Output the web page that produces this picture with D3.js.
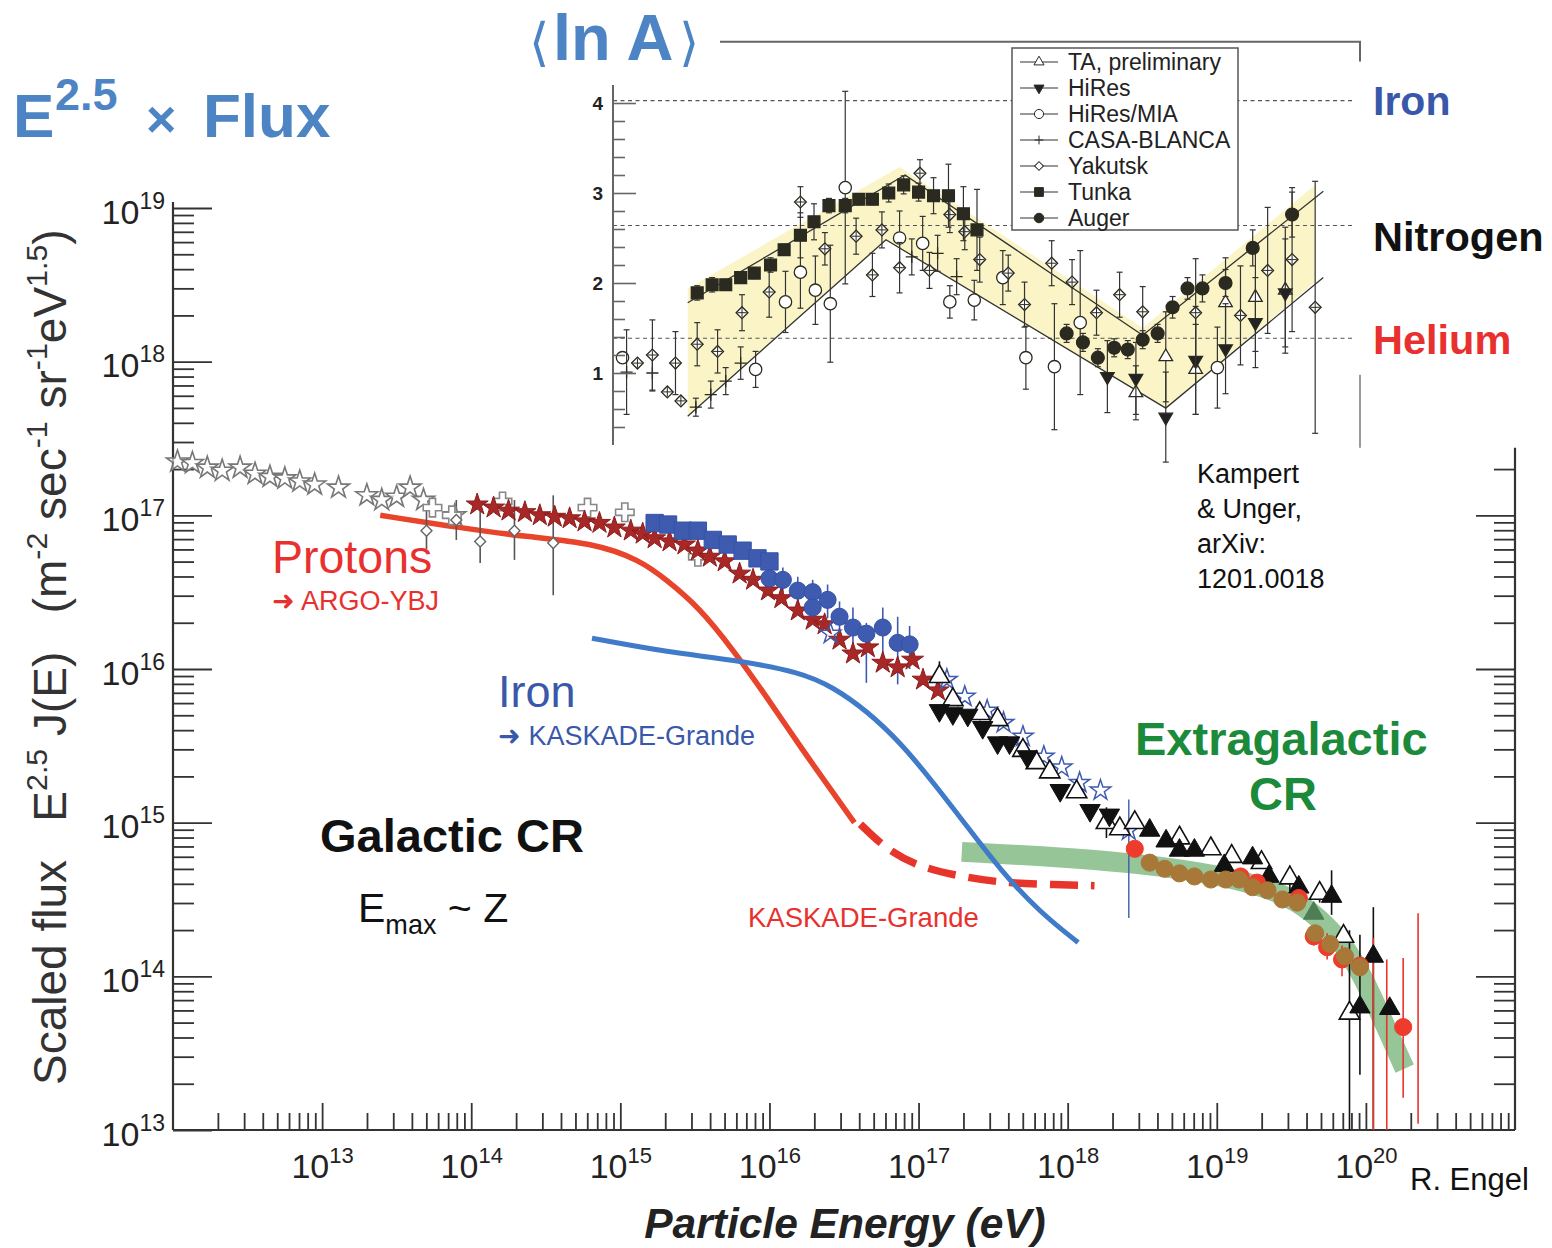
<!DOCTYPE html>
<html>
<head>
<meta charset="utf-8">
<script src="https://cdn.jsdelivr.net/npm/d3@7"></script>
<style>
  body { margin: 0; background: #fff; }
  svg { display: block; font-family: "Liberation Sans", Arial, Helvetica, sans-serif; }
  text { white-space: pre; }
</style>
</head>
<body>
<svg id="chart" width="1552" height="1248"></svg>
<script>
// ---------- main chart data: [log10 E (eV), log10 E^2.5 J(E)] ----------
const xDecades = [13, 14, 15, 16, 17, 18, 19, 20];
const yDecades = [13, 14, 15, 16, 17, 18, 19];

const directStars = [[12.03,17.35],[12.13,17.34],[12.23,17.31],[12.33,17.29],[12.45,17.31],[12.55,17.27],[12.65,17.25],[12.75,17.24],[12.85,17.22],[12.95,17.20],[13.11,17.18],[13.30,17.13],[13.40,17.10],[13.50,17.12],[13.59,17.18],[13.68,17.10],[13.89,17.00]];
const openCrosses = [[13.74,17.05],[13.87,17.00],[14.21,17.09],[14.78,17.05],[15.03,17.02],[15.52,16.73]];
// [lgE, lgF, lo, hi]
const argoPoints = [[13.70,16.90,16.78,17.03],[13.90,16.97,16.84,17.10],[14.06,16.83,16.69,17.09],[14.29,16.90,16.71,17.10],[14.55,16.82,16.48,17.13]];
const redStars = [[14.04,17.07],[14.15,17.05],[14.25,17.03],[14.36,17.02],[14.46,17.00],[14.56,16.99],[14.66,16.98],[14.76,16.96],[14.86,16.95],[14.96,16.92],[15.07,16.90],[15.15,16.88],[15.23,16.85],[15.33,16.83],[15.43,16.81],[15.52,16.77],[15.60,16.73],[15.70,16.70],[15.80,16.62],[15.89,16.58],[15.99,16.51],[16.08,16.46],[16.19,16.38],[16.29,16.32],[16.37,16.29],[16.47,16.19],[16.56,16.10],[16.66,16.14],[16.76,16.04],[16.86,16.01],[16.96,16.06],[17.03,15.93],[17.13,15.86]];
const blueSquares = [[15.23,16.95],[15.32,16.94],[15.42,16.90],[15.52,16.90],[15.62,16.84],[15.72,16.81],[15.82,16.77],[15.92,16.72],[16.00,16.70]];
const blueCircles = [[16.00,16.59,16.52,16.66],[16.09,16.58,16.50,16.66],[16.19,16.51,16.40,16.60],[16.29,16.50,16.40,16.58],[16.39,16.45,16.33,16.55],[16.29,16.40,16.30,16.48],[16.47,16.34,16.22,16.44],[16.56,16.27,16.10,16.40],[16.65,16.23,15.91,16.30],[16.76,16.27,16.01,16.40],[16.86,16.17,15.90,16.34],[16.94,16.16,16.00,16.28]];
const blueOpenStars = [[16.41,16.23,16.23,16.23],[17.19,15.93,15.93,15.93],[17.31,15.82,15.82,15.82],[17.46,15.73,15.73,15.73],[17.57,15.65,15.65,15.65],[17.70,15.56,15.56,15.56],[17.84,15.43,15.43,15.43],[17.96,15.36,15.36,15.36],[18.08,15.26,15.26,15.26],[18.22,15.21,15.21,15.21],[18.41,14.95,14.38,15.15]];
const blackDownTri = [[17.14,15.73],[17.23,15.71],[17.33,15.70],[17.43,15.62],[17.53,15.52],[17.61,15.52],[17.73,15.43],[17.95,15.21],[18.15,15.08],[18.28,15.05]];
const blackOpenTri = [[17.14,15.95,15.85,16.05],[17.23,15.80,15.80,15.80],[17.41,15.71,15.71,15.71],[17.53,15.67,15.67,15.67],[17.70,15.47,15.47,15.47],[17.79,15.39,15.39,15.39],[17.88,15.33,15.33,15.33],[18.06,15.20,15.20,15.20],[18.26,15.00,14.90,15.10],[18.35,14.96,14.96,14.96],[18.45,15.00,15.00,15.00],[18.75,14.90,14.90,14.90],[18.96,14.83,14.83,14.83],[19.10,14.78,14.78,14.78],[19.30,14.74,14.74,14.74],[19.49,14.64,14.55,14.72],[19.69,14.54,14.48,14.60],[19.85,14.26,14.26,14.26],[19.89,13.76,13.00,14.30]];
const blackTri = [[18.55,14.95,14.95,14.95],[18.66,14.88,14.88,14.88],[18.75,14.82,14.82,14.82],[18.85,14.82,14.82,14.82],[19.05,14.72,14.72,14.72],[19.24,14.77,14.77,14.77],[19.35,14.65,14.60,14.72],[19.55,14.58,14.58,14.58],[19.77,14.52,14.40,14.69],[19.96,13.80,13.36,14.27],[20.05,14.13,13.00,14.45],[20.16,13.79,13.79,13.79]];
const greenTri = [[19.65,14.41]];
const redCircles = [[18.45,14.83,14.83,14.83],[19.16,14.65,14.65,14.65],[19.27,14.61,14.61,14.61],[19.55,14.51,14.51,14.51],[19.65,14.26,14.20,14.32],[19.74,14.19,14.11,14.28],[19.84,14.11,14.00,14.20],[19.96,14.07,14.07,14.07],[20.25,13.67,13.21,14.12]];
const redBars = [[20.05,13.00,14.25],[20.14,13.00,14.11],[20.35,13.04,14.41]];
const augerFlux = [[18.55,14.74],[18.65,14.70],[18.75,14.67],[18.85,14.65],[18.96,14.63],[19.06,14.63],[19.15,14.63],[19.24,14.58],[19.34,14.56],[19.44,14.50],[19.54,14.48],[19.66,14.28],[19.76,14.21],[19.86,14.13],[19.96,14.06]];

const protonCurve = [[13.39,17.00],[13.92,16.92],[14.37,16.86],[14.82,16.82],[15.13,16.71],[15.31,16.58],[15.53,16.40],[15.76,16.12],[15.98,15.82],[16.21,15.49],[16.43,15.19],[16.57,15.00]];
const protonDashed = [[16.61,14.99],[16.79,14.82],[17.01,14.71],[17.28,14.65],[17.55,14.61],[17.81,14.60],[18.18,14.59]];
const ironCurve = [[14.81,16.20],[15.31,16.11],[15.76,16.06],[16.21,15.98],[16.43,15.88],[16.65,15.73],[16.88,15.52],[17.10,15.26],[17.33,14.97],[17.55,14.69],[17.81,14.42],[18.07,14.22]];
const extragalBand = [[17.29,14.81],[17.88,14.78],[18.42,14.74],[18.89,14.68],[19.22,14.61],[19.49,14.52],[19.69,14.38],[19.86,14.20],[19.99,13.98],[20.13,13.68],[20.26,13.40]];

// ---------- inset data: [log10 E, <ln A>, error] ----------
const insetTicks = [1, 2, 3, 4];
const massNumbers = [56, 14, 4];   // iron, nitrogen, helium
const taPrelim = [[18.35,0.78,.3],[18.57,1.18,.5],[18.79,1.04,.5],[19.01,1.78,.5],[19.23,1.84,.6],[19.45,1.92,.7]];
const hires = [[18.14,0.96,.4],[18.35,0.94,.4],[18.57,0.51,.5],[18.79,1.14,.6],[19.01,1.27,.5],[19.23,1.56,.5],[19.45,1.89,.6]];
const hiresMia = [[14.57,1.17,0],[15.55,1.04,.2],[15.77,1.79,.34],[15.88,2.12,.4],[15.99,1.92,.38],[16.10,1.77,.65],[16.21,3.06,1.07],[16.61,2.50,.3],[16.78,2.44,.3],[16.98,1.79,.18],[17.16,1.81,.22],[17.37,2.06,.3],[17.54,1.17,.35],[17.75,1.07,.7],[17.94,1.56,.8],[18.95,1.06,.45]];
const casaBlanca = [[14.60,1.01,.47],[14.79,1.00,.2],[15.11,0.62,.1],[15.22,0.76,.15],[15.33,0.91,.15],[15.44,1.11,.18],[16.70,2.29,.2],[16.89,2.33,.2],[17.03,2.07,.2]];
const yakutsk = [[14.68,1.11,0],[14.79,1.20,.39],[14.90,0.79,0],[14.96,1.11,.35],[15.00,0.69,0],[15.12,1.32,.24],[15.27,1.24,.24],[15.45,1.67,.2],[15.65,1.90,.28],[15.88,2.90,.17],[16.06,2.38,.18],[16.29,2.52,.2],[16.41,2.09,.24],[16.48,2.59,.2],[16.61,2.17,.28],[16.76,3.22,.15],[16.83,2.14,.2],[16.98,2.76,.2],[17.09,2.57,.2],[17.20,2.26,.25],[17.41,2.11,.2],[17.53,1.76,.25],[17.73,2.22,.25],[17.88,2.01,.25],[18.06,1.67,.25],[18.23,1.87,.25],[18.40,1.68,.28],[18.79,1.67,.6],[19.12,1.64,.55],[19.32,2.14,.7],[19.50,2.26,.8],[19.67,1.73,1.4]];
const tunka = [[15.12,1.89,.08],[15.23,1.98,.08],[15.33,1.98,.06],[15.44,2.06,.06],[15.54,2.11,.06],[15.66,2.20,.08],[15.76,2.37,.06],[15.88,2.53,.25],[15.98,2.68,.2],[16.09,2.86,.08],[16.21,2.86,.08],[16.31,2.93,.06],[16.41,2.93,.06],[16.53,3.00,.1],[16.64,3.09,.1],[16.75,3.01,.1],[16.86,2.97,.2],[16.97,2.97,.35],[17.08,2.77,.3],[17.18,2.59,.45]];
const auger = [[17.84,1.44,.1],[17.96,1.34,.1],[18.07,1.17,.1],[18.19,1.28,.1],[18.29,1.26,.1],[18.40,1.37,.1],[18.51,1.44,.1],[18.62,1.73,.12],[18.73,1.94,.12],[18.84,1.94,.15],[19.01,2.00,.15],[19.21,2.39,.2],[19.50,2.76,.25]];
const bandEdge = [[15.05,1.94],[16.61,3.29],[18.40,1.50],[19.67,3.09],[19.67,2.01],[18.57,0.61],[16.51,2.47],[15.05,0.53]];
const bandUpperLine = [[15.05,1.78],[16.65,3.20],[18.40,1.42],[19.73,3.02]];
const bandLowerLine = [[15.05,0.52],[16.51,2.48],[18.57,0.61],[19.73,2.06]];

// ---------- scales ----------
const svg = d3.select('#chart');
const P = v => Math.pow(10, v);
const x = d3.scaleLog().domain([1e12, 1e21]).range([173, 1515]);
const y = d3.scaleLog().domain([1e13, 1e19]).range([1130, 208]);
const X = d => x(P(d[0])), Y = d => y(P(d[1]));

const ix = d3.scaleLinear().domain([14.5, 20.0]).range([613, 1360]);
const iy = d3.scaleLinear().domain([0.2, 4.2]).range([445, 85]);

function minors(lo, hi) {
  const a = [];
  for (let e = lo; e < hi; e++) for (let k = 2; k < 10; k++) a.push(k * P(e));
  return a;
}
const axisStyle = g => {
  g.select('.domain').remove();
  g.selectAll('.tick line').attr('stroke', '#333').attr('stroke-width', 1.8);
};
function powLabels(g, size, supSize, supDy) {
  g.selectAll('.tick text').each(function (d) {
    const t = d3.select(this), e = Math.round(Math.log10(d));
    t.text(null).attr('font-size', size).attr('fill', '#222');
    t.append('tspan').text('10');
    t.append('tspan').attr('dy', supDy).attr('font-size', supSize).text(e);
  });
}
function rich(t, parts, size) {
  let off = 0;
  parts.forEach(([s, kind]) => {
    const want = kind === 'sup' ? -size * 0.42 : kind === 'sub' ? size * 0.3 : 0;
    t.append('tspan').attr('dy', want - off).attr('font-size', kind ? size * 0.66 : size).text(s);
    off = want;
  });
}

// ---------- main axes ----------
const rightTop = P(17.44);
svg.append('g').attr('transform', `translate(${x(1e12)},0)`)
  .call(d3.axisLeft(y).tickValues(minors(13, 19)).tickSize(-21).tickFormat(''))
  .call(axisStyle);
svg.append('g').attr('transform', `translate(${x(1e12)},0)`)
  .call(d3.axisLeft(y).tickValues(yDecades.map(P)).tickSize(-39).tickPadding(8))
  .call(axisStyle)
  .call(g => { g.selectAll('.tick text').attr('dy', '0.45em'); powLabels(g, 34, 23, -15); });

svg.append('g').attr('transform', `translate(${x(1e21)},0)`)
  .call(d3.axisRight(y).tickValues(minors(13, 18).filter(v => v <= rightTop)).tickSize(-21).tickFormat(''))
  .call(axisStyle);
svg.append('g').attr('transform', `translate(${x(1e21)},0)`)
  .call(d3.axisRight(y).tickValues([1e14, 1e15, 1e16, 1e17]).tickSize(-39).tickFormat(''))
  .call(axisStyle);

svg.append('g').attr('transform', `translate(0,${y(1e13)})`)
  .call(d3.axisBottom(x).tickValues(minors(12, 21)).tickSize(-17).tickFormat(''))
  .call(axisStyle);
svg.append('g').attr('transform', `translate(0,${y(1e13)})`)
  .call(d3.axisBottom(x).tickValues(xDecades.map(P)).tickSize(-27).tickPadding(24))
  .call(axisStyle)
  .call(g => powLabels(g, 34, 22, -15));

const frame = svg.append('g').attr('stroke', '#333').attr('stroke-width', 2.2).attr('fill', 'none');
frame.append('line').attr('x1', x(1e12)).attr('x2', x(1e12)).attr('y1', y(1e19) - 6).attr('y2', y(1e13));
frame.append('line').attr('x1', x(1e12)).attr('x2', x(1e21)).attr('y1', y(1e13)).attr('y2', y(1e13));
frame.append('line').attr('x1', x(1e21)).attr('x2', x(1e21)).attr('y1', y(rightTop)).attr('y2', y(1e13));

// ---------- main curves ----------
const line = d3.line().x(X).y(Y).curve(d3.curveBasis);
svg.append('path').datum(extragalBand).attr('d', line)
  .attr('fill', 'none').attr('stroke', '#90c292').attr('stroke-width', 20).attr('opacity', 0.95);
svg.append('path').datum(protonCurve).attr('d', line)
  .attr('fill', 'none').attr('stroke', '#e8442c').attr('stroke-width', 5.5);
svg.append('path').datum(protonDashed).attr('d', line)
  .attr('fill', 'none').attr('stroke', '#e8352c').attr('stroke-width', 7.5).attr('stroke-dasharray', '28,13');
svg.append('path').datum(ironCurve).attr('d', line)
  .attr('fill', 'none').attr('stroke', '#3f7bc8').attr('stroke-width', 5);

// ---------- main points ----------
function errBars(data, color, sw) {
  svg.append('g').selectAll('line').data(data.filter(d => d[2] !== d[3])).join('line')
    .attr('x1', X).attr('x2', X)
    .attr('y1', d => y(P(d[2]))).attr('y2', d => y(P(d[3])))
    .attr('stroke', color).attr('stroke-width', sw || 1.5);
}
function marks(data, type, size, fill, stroke, sw, rot) {
  svg.append('g').selectAll('path').data(data).join('path')
    .attr('transform', d => `translate(${X(d)},${Y(d)})` + (rot ? ` rotate(${rot})` : ''))
    .attr('d', d3.symbol().type(type).size(size))
    .attr('fill', fill).attr('stroke', stroke).attr('stroke-width', sw);
}

errBars(argoPoints, '#555', 1.6);
errBars(blueCircles, '#3f5bb0', 1.6);
errBars(blueOpenStars, '#3f5bb0', 1.4);
errBars(blackOpenTri, '#111', 1.6);
errBars(blackTri, '#111', 1.6);
errBars(redCircles, '#e8352c', 1.6);
svg.append('g').selectAll('line').data(redBars).join('line')
  .attr('x1', X).attr('x2', X)
  .attr('y1', d => y(P(d[1]))).attr('y2', d => y(P(d[2])))
  .attr('stroke', '#e8352c').attr('stroke-width', 1.6);

marks(directStars, d3.symbolStar, 150, 'rgba(255,255,255,0.6)', '#777', 1.6);
marks(openCrosses, d3.symbolCross, 190, '#fff', '#888', 1.6);
marks(argoPoints, d3.symbolSquare, 60, '#fff', '#666', 1.4, 45);
marks(redStars, d3.symbolStar, 150, '#a82828', '#8c1c1c', 1);
marks(blueSquares, d3.symbolSquare, 300, '#3f5bb0', '#3552a6', 1);
marks(blueCircles, d3.symbolCircle, 230, '#3f5bb0', '#3552a6', 1);
marks(blueOpenStars, d3.symbolStar, 130, 'none', '#3f5bb0', 1.5);
marks(blackOpenTri, d3.symbolTriangle, 180, '#fff', '#111', 1.6);
marks(blackDownTri, d3.symbolTriangle, 180, '#111', '#111', 1, 180);
marks(blackTri, d3.symbolTriangle, 180, '#111', '#111', 1);
marks(greenTri, d3.symbolTriangle, 180, '#4f7e55', '#4f7e55', 1);
marks(redCircles, d3.symbolCircle, 230, '#ee3b2c', '#ee3b2c', 1);
marks(augerFlux, d3.symbolCircle, 230, '#a87838', '#a87838', 1);

// ---------- inset ----------
const inset = svg.append('g');
const iline = d3.line().x(d => ix(d[0])).y(d => iy(d[1]));
inset.append('path').datum(bandEdge).attr('d', d => iline(d) + 'Z').attr('fill', '#faf4c6');
inset.selectAll('line.ref').data(massNumbers).join('line').attr('class', 'ref')
  .attr('x1', ix(14.5)).attr('x2', ix(19.96))
  .attr('y1', a => iy(Math.log(a))).attr('y2', a => iy(Math.log(a)))
  .attr('stroke', '#555').attr('stroke-width', 1.2).attr('stroke-dasharray', '4,3.5');
[bandUpperLine, bandLowerLine].forEach(l => inset.append('path').datum(l).attr('d', iline)
  .attr('fill', 'none').attr('stroke', '#333').attr('stroke-width', 1.3));

const plusType = d3.symbolPlus || d3.symbolCross;
const insetSeries = [
  { name: 'TA, preliminary', data: taPrelim, type: d3.symbolTriangle, size: 80, fill: '#fff' },
  { name: 'HiRes', data: hires, type: d3.symbolTriangle, size: 80, fill: '#222', rot: 180 },
  { name: 'HiRes/MIA', data: hiresMia, type: d3.symbolCircle, size: 120, fill: '#fff' },
  { name: 'CASA-BLANCA', data: casaBlanca, type: plusType, size: 50, fill: 'none' },
  { name: 'Yakutsk', data: yakutsk, type: d3.symbolSquare, size: 70, fill: '#fff', rot: 45, cross: true },
  { name: 'Tunka', data: tunka, type: d3.symbolSquare, size: 140, fill: '#2a2a20' },
  { name: 'Auger', data: auger, type: d3.symbolCircle, size: 130, fill: '#2a2a20' }
];
insetSeries.forEach(s => {
  const g = inset.append('g');
  const eb = s.data.filter(d => d[2] > 0);
  g.selectAll('line.e').data(eb).join('line').attr('class', 'e')
    .attr('x1', d => ix(d[0])).attr('x2', d => ix(d[0]))
    .attr('y1', d => iy(d[1] - d[2])).attr('y2', d => iy(d[1] + d[2]))
    .attr('stroke', '#333').attr('stroke-width', 1.2);
  [-1, 1].forEach(sg => g.selectAll('line.c' + sg).data(eb).join('line').attr('class', 'c' + sg)
    .attr('x1', d => ix(d[0]) - 3).attr('x2', d => ix(d[0]) + 3)
    .attr('y1', d => iy(d[1] + sg * d[2])).attr('y2', d => iy(d[1] + sg * d[2]))
    .attr('stroke', '#333').attr('stroke-width', 1.2));
  const pos = d => `translate(${ix(d[0])},${iy(d[1])})`;
  g.selectAll('path.m').data(s.data).join('path').attr('class', 'm')
    .attr('transform', d => pos(d) + (s.rot ? ` rotate(${s.rot})` : ''))
    .attr('d', d3.symbol().type(s.type).size(s.size))
    .attr('fill', s.fill).attr('stroke', '#2a2a20').attr('stroke-width', 1.3);
  if (s.cross) g.selectAll('path.x').data(s.data).join('path').attr('class', 'x')
    .attr('transform', pos).attr('d', d3.symbol().type(plusType).size(30))
    .attr('fill', 'none').attr('stroke', '#2a2a20').attr('stroke-width', 1);
});

// inset axis
inset.append('g').attr('transform', `translate(${ix(14.5)},0)`)
  .call(d3.axisLeft(iy).tickValues(d3.range(2, 21).filter(i => i % 5 !== 0).map(i => i / 5)).tickSize(-12).tickFormat(''))
  .call(g => { g.select('.domain').remove(); g.selectAll('.tick line').attr('stroke', '#666').attr('stroke-width', 1.6); });
inset.append('g').attr('transform', `translate(${ix(14.5)},0)`)
  .call(d3.axisLeft(iy).tickValues(insetTicks).tickSize(-23).tickPadding(10).tickFormat(d3.format('d')))
  .call(g => {
    g.select('.domain').remove();
    g.selectAll('.tick line').attr('stroke', '#666').attr('stroke-width', 1.6);
    g.selectAll('.tick text').attr('font-size', 19).attr('font-weight', 'bold').attr('fill', '#222')
      .attr('font-family', '"Liberation Sans", Arial, sans-serif');
  });
const iframe = inset.append('g').attr('stroke', '#666').attr('stroke-width', 2).attr('fill', 'none');
iframe.append('line').attr('x1', ix(14.5)).attr('x2', ix(14.5)).attr('y1', iy(4.2)).attr('y2', iy(0.2));
iframe.append('polyline').attr('points', `720,${iy(4.68)} ${ix(20)},${iy(4.68)} ${ix(20)},${iy(4.46)}`);
iframe.append('line').attr('stroke', '#999').attr('x1', ix(20)).attr('x2', ix(20)).attr('y1', iy(0.98)).attr('y2', iy(0.17));

// legend
const leg = inset.append('g');
leg.append('rect').attr('x', 1012).attr('y', 48).attr('width', 226).attr('height', 182)
  .attr('fill', '#fff').attr('stroke', '#555').attr('stroke-width', 1.5);
insetSeries.forEach((s, i) => {
  const ry = 62 + i * 26;
  leg.append('line').attr('x1', 1020).attr('x2', 1058).attr('y1', ry).attr('y2', ry).attr('stroke', '#333').attr('stroke-width', 1.2);
  leg.append('path').attr('transform', `translate(1039,${ry})` + (s.rot ? ` rotate(${s.rot})` : ''))
    .attr('d', d3.symbol().type(s.type).size(s.size * 0.55)())
    .attr('fill', s.fill).attr('stroke', '#2a2a20').attr('stroke-width', 1);
  leg.append('text').attr('x', 1068).attr('y', ry + 8).attr('font-size', 23).attr('fill', '#222').text(s.name);
});

// ---------- texts ----------
const T = (xp, yp, str, size, color) =>
  svg.append('text').attr('x', xp).attr('y', yp).attr('font-size', size).attr('fill', color).text(str);

// headline
const head = svg.append('text').attr('y', 137).attr('fill', '#4d84c4').attr('font-weight', 'bold');
head.append('tspan').attr('x', 13).attr('font-size', 62).text('E');
head.append('tspan').attr('x', 55).attr('dy', -27).attr('font-size', 45).text('2.5');
head.append('tspan').attr('x', 146).attr('dy', 27).attr('font-size', 52).text('×');
head.append('tspan').attr('x', 203).attr('font-size', 62).text('Flux');

const lnA = svg.append('text').attr('y', 60).attr('fill', '#4d84c4');
lnA.append('tspan').attr('x', 529).attr('font-family', 'DejaVu Sans').attr('font-size', 52).text('⟨');
lnA.append('tspan').attr('x', 553).attr('font-weight', 'bold').attr('font-size', 65).text('ln A');
lnA.append('tspan').attr('x', 679).attr('font-family', 'DejaVu Sans').attr('font-size', 52).text('⟩');

T(1373, 115, 'Iron', 41, '#3a58aa').attr('font-weight', 'bold');
T(1373, 251, 'Nitrogen', 41.5, '#111').attr('font-weight', 'bold');
T(1373, 354, 'Helium', 41.5, '#e8312e').attr('font-weight', 'bold');

T(272, 573, 'Protons', 46.5, '#e8312e');
T(272, 610, '➜ ARGO-YBJ', 27, '#e8312e');
T(498, 707, 'Iron', 45, '#3a58aa');
T(498, 745, '➜ KASKADE-Grande', 27, '#3a58aa');
T(320, 852, 'Galactic CR', 47, '#111').attr('font-weight', 'bold');
const emax = svg.append('text').attr('x', 358).attr('y', 922).attr('fill', '#111');
rich(emax, [['E'], ['max', 'sub'], [' ~ Z']], 41);
T(748, 927, 'KASKADE-Grande', 27.5, '#e8312e');
T(1135, 755, 'Extragalactic', 47, '#1b8a3a').attr('font-weight', 'bold');
T(1283, 810, 'CR', 47, '#1b8a3a').attr('font-weight', 'bold').attr('text-anchor', 'middle');
['Kampert', '& Unger,', 'arXiv:', '1201.0018'].forEach((s, i) => T(1197, 483 + i * 35, s, 27, '#111'));
T(1410, 1190, 'R. Engel', 31, '#111');
T(845, 1238, 'Particle Energy (eV)', 42.5, '#222').attr('font-weight', 'bold').attr('font-style', 'italic').attr('text-anchor', 'middle');

const ytitle = svg.append('text').attr('transform', 'translate(66,1085) rotate(-90)').attr('fill', '#333');
rich(ytitle, [['Scaled flux'], ['   E'], ['2.5', 'sup'], [' J(E)   (m'], ['-2', 'sup'], [' sec'], ['-1', 'sup'], [' sr'], ['-1', 'sup'], ['eV'], ['1.5', 'sup'], [')']], 46);
</script>
</body>
</html>
